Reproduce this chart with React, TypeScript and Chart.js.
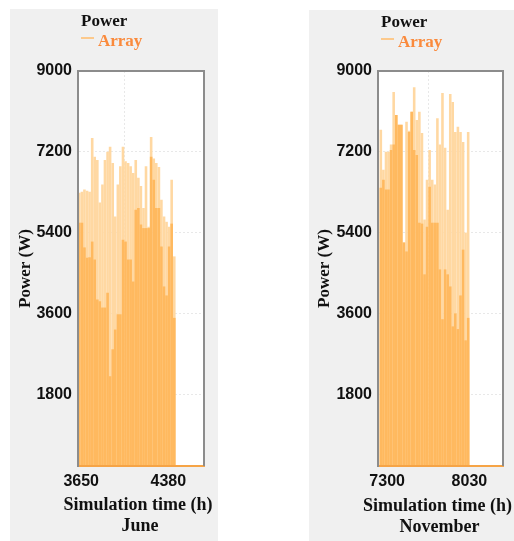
import React, { useEffect, useRef } from 'react';
import { Chart, registerables } from 'chart.js';

Chart.register(...registerables);

// ---------- data ----------
const juneHours = [3634, 3656, 3677, 3699, 3720, 3742, 3763, 3785, 3806, 3828, 3849, 3871, 3892, 3914, 3935, 3957, 3978, 4000, 4021, 4043, 4064, 4086, 4107, 4129, 4150, 4172, 4193, 4215, 4236, 4258, 4279, 4301, 4322, 4344, 4365, 4387, 4408, 4430];
const juneLight = [6290, 6310, 6360, 6330, 6310, 7510, 7090, 7020, 6070, 6470, 7020, 7200, 7310, 6950, 5760, 6470, 6880, 7310, 6990, 6950, 6880, 6730, 7020, 6620, 6440, 5950, 6880, 5530, 7530, 7050, 6950, 6860, 6130, 5760, 5640, 5530, 6580, 4870];
const juneDark = [5620, 5620, 5070, 4840, 4850, 5200, 4800, 3910, 3870, 3730, 3730, 4060, 2200, 2800, 3240, 3580, 3580, 5240, 5200, 4800, 4800, 4310, 5910, 5950, 5580, 5500, 5500, 5500, 7090, 6580, 5950, 5950, 5090, 4200, 4000, 5090, 5600, 3500];

const novHours = [7244, 7267, 7290, 7312, 7335, 7358, 7381, 7404, 7426, 7449, 7472, 7495, 7518, 7540, 7563, 7586, 7609, 7632, 7654, 7677, 7700, 7723, 7746, 7768, 7791, 7814, 7837, 7860, 7882, 7905, 7928, 7951, 7974, 7996, 8019];
const novLight = [7690, 6800, 7200, 7200, 7360, 8530, 8020, 7800, 7800, 5180, 7870, 7670, 8090, 8640, 7910, 8090, 7620, 5690, 6580, 7240, 6580, 6470, 7950, 7360, 8510, 7290, 5910, 8490, 8310, 7640, 7760, 7640, 7420, 5400, 7640];
const novDark = [6400, 6580, 6360, 6360, 7240, 7360, 8020, 7800, 7800, 5180, 4980, 7640, 8090, 7240, 7130, 5620, 5600, 4470, 5530, 6420, 5620, 5620, 5620, 4580, 3470, 4580, 4470, 4200, 3310, 3600, 3250, 4000, 5020, 3000, 3500];

const yTickValues = [1800, 3600, 5400, 7200, 9000];
const juneXTicks = [3650, 4380];
const novXTicks = [7300, 8030];

const chartTitle = 'Power';
const seriesName = 'Array';
const yTitle = 'Power (W)';
const xTitle = 'Simulation time (h)';
const juneLabel = 'June';
const novLabel = 'November';

// ---------- styles ----------
const LIGHT = '#ffd8a2';
const DARK = '#ffb95f';
const FRAME = '#8c8c8c';
const TEXT = '#111111';
const SANS = "'Liberation Sans', Arial, sans-serif";
const SERIF = "'Liberation Serif', 'Times New Roman', serif";

const framePlugin = {
  id: 'frameAndHeader',
  beforeDraw(chart: any) {
    const { ctx, chartArea: a } = chart;
    ctx.save();
    ctx.fillStyle = '#ffffff';
    ctx.fillRect(a.left, a.top, a.right - a.left, a.bottom - a.top);
    ctx.restore();
  },
  afterDraw(chart: any, _args: any, opts: any) {
    const { ctx, chartArea: a } = chart;
    ctx.save();
    ctx.strokeStyle = FRAME;
    ctx.lineWidth = 2;
    ctx.beginPath();
    ctx.moveTo(a.left, a.top);
    ctx.lineTo(a.right, a.top);
    ctx.lineTo(a.right, a.bottom);
    ctx.stroke();

    ctx.textBaseline = 'middle';
    ctx.textAlign = 'left';
    ctx.font = `bold 17px ${SERIF}`;
    ctx.fillStyle = TEXT;
    ctx.fillText(chartTitle, a.left + 3, 13);

    ctx.strokeStyle = '#fcc98c';
    ctx.lineWidth = 2;
    ctx.beginPath();
    ctx.moveTo(a.left + 3, 29);
    ctx.lineTo(a.left + 16, 29);
    ctx.stroke();

    ctx.fillStyle = '#fa8a3c';
    ctx.fillText(seriesName, a.left + 20, 33);

    // x-axis title (two lines), not width-limited
    const cx = (a.left + a.right) / 2 - 1;
    const monthY = chart.height - opts.titleBottom - 10.5;
    ctx.textAlign = 'center';
    ctx.fillStyle = TEXT;
    ctx.font = `bold 18px ${SERIF}`;
    ctx.fillText(xTitle, cx - 2, monthY - 21);
    ctx.fillText(opts.month, cx, monthY);
    ctx.restore();
  },
};

type PanelProps = {
  left: number;
  top: number;
  width: number;
  height: number;
  hours: number[];
  light: number[];
  dark: number[];
  xTicks: number[];
  xMin: number;
  xMax: number;
  month: string;
  padTop: number;
  padRight: number;
  yWidth: number;
  titleBottom: number;
};

function Panel(p: PanelProps) {
  const ref = useRef<HTMLCanvasElement | null>(null);
  useEffect(() => {
    if (!ref.current) return;
    const tickFont = { family: SANS, size: 16, weight: 'bold' as const };
    const chart = new Chart(ref.current, {
      type: 'bar',
      data: {
        datasets: [
          {
            label: seriesName + ' dark',
            data: p.hours.map((h, i) => ({ x: h, y: p.dark[i] })),
            backgroundColor: DARK,
            borderWidth: 0,
          },
          {
            label: seriesName,
            data: p.hours.map((h, i) => ({ x: h, y: p.light[i] })),
            backgroundColor: LIGHT,
            borderWidth: 0,
          },
        ],
      },
      options: {
        responsive: false,
        animation: false,
        devicePixelRatio: 1,
        layout: { padding: { top: p.padTop, right: p.padRight, left: 0, bottom: 0 } },
        datasets: {
          bar: { grouped: false, barPercentage: 1.04, categoryPercentage: 1 },
        },
        plugins: {
          legend: { display: false },
          tooltip: { enabled: false },
          title: { display: false },
          frameAndHeader: { month: p.month, titleBottom: p.titleBottom },
        },
        scales: {
          x: {
            type: 'linear',
            offset: false,
            min: p.xMin,
            max: p.xMax,
            afterBuildTicks: (s: any) => {
              s.ticks = p.xTicks.map((v) => ({ value: v }));
            },
            afterFit: (s: any) => {
              s.height = 75;
            },
            grid: { color: '#e8e8e8', drawTicks: false, lineWidth: 1 },
            border: { color: '#f6a446', width: 2, z: 1, dash: [2, 2] },
            ticks: {
              font: tickFont,
              color: TEXT,
              padding: 6,
              maxRotation: 0,
              autoSkip: false,
              callback: (v: any) => String(v),
            },
            title: { display: false },
          },
          y: {
            type: 'linear',
            min: 200,
            max: 9000,
            afterBuildTicks: (s: any) => {
              s.ticks = yTickValues.map((v) => ({ value: v }));
            },
            afterFit: (s: any) => {
              s.width = p.yWidth;
            },
            grid: { color: '#e8e8e8', drawTicks: false, lineWidth: 1 },
            border: { color: FRAME, width: 2, z: 1, dash: [2, 2] },
            ticks: {
              font: tickFont,
              color: TEXT,
              padding: 6,
              callback: (v: any) => String(v),
            },
            title: {
              display: true,
              text: yTitle,
              color: TEXT,
              font: { family: SERIF, size: 17, weight: 'bold', lineHeight: 1.2 },
              padding: { top: 5, bottom: 0 },
            },
          },
        },
      } as any,
      plugins: [framePlugin],
    });
    return () => chart.destroy();
  }, []);

  return (
    <div
      style={{
        position: 'absolute',
        left: p.left,
        top: p.top,
        width: p.width,
        height: p.height,
        background: '#f0f0f0',
      }}
    >
      <canvas ref={ref} width={p.width} height={p.height} style={{ display: 'block' }} />
    </div>
  );
}

export default function App() {
  return (
    <div
      style={{
        position: 'fixed',
        left: 0,
        top: 0,
        width: 514,
        height: 541,
        background: '#ffffff',
        overflow: 'hidden',
      }}
    >
      <Panel
        left={10}
        top={9}
        width={208}
        height={532}
        hours={juneHours}
        light={juneLight}
        dark={juneDark}
        xTicks={juneXTicks}
        xMin={3623}
        xMax={4679}
        month={juneLabel}
        padTop={62}
        padRight={14}
        yWidth={68}
        titleBottom={4.5}
      />
      <Panel
        left={309}
        top={10}
        width={205}
        height={531}
        hours={novHours}
        light={novLight}
        dark={novDark}
        xTicks={novXTicks}
        xMin={7219}
        xMax={8328}
        month={novLabel}
        padTop={61}
        padRight={11}
        yWidth={69}
        titleBottom={3.5}
      />
    </div>
  );
}
